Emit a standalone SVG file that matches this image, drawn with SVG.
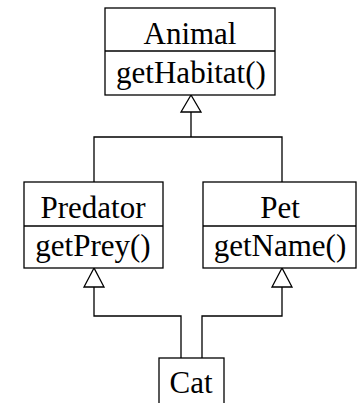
<svg xmlns="http://www.w3.org/2000/svg" width="358" height="403" viewBox="0 0 358 403">
<style>
.box{fill:#fff;stroke:#000;stroke-width:1.3}
.ln{fill:none;stroke:#000;stroke-width:1.3}
.tri{fill:#fff;stroke:#000;stroke-width:1.3}
text{font-family:"Liberation Serif","Times New Roman",serif;font-size:31px;fill:#000;text-anchor:middle}
</style>
<rect width="358" height="403" fill="#fff"/>
<g id="connectors">
<path class="ln" d="M191,112 V137 M94,182 V137 H282 V182"/>
<polygon class="tri" points="191,95 181,112 201,112"/>
<path class="ln" d="M94,287 V316 H181 V358 M282,287 V316 H202 V358"/>
<polygon class="tri" points="94,268 84,287 104,287"/>
<polygon class="tri" points="282,268 272,287 292,287"/>
</g>
<g id="Animal">
<rect class="box" x="105" y="8" width="170" height="87"/>
<line class="ln" x1="105" y1="51" x2="275" y2="51"/>
<text x="190" y="44">Animal</text>
<text x="191" y="83">getHabitat()</text>
</g>
<g id="Predator">
<rect class="box" x="24" y="182" width="139" height="86"/>
<line class="ln" x1="24" y1="226" x2="163" y2="226"/>
<text x="93" y="218">Predator</text>
<text x="93" y="256">getPrey()</text>
</g>
<g id="Pet">
<rect class="box" x="203" y="182" width="153" height="86"/>
<line class="ln" x1="203" y1="226" x2="356" y2="226"/>
<text x="280" y="218">Pet</text>
<text x="280" y="256">getName()</text>
</g>
<g id="Cat">
<rect class="box" x="159" y="358" width="65" height="60"/>
<text x="191" y="393">Cat</text>
</g>
</svg>
